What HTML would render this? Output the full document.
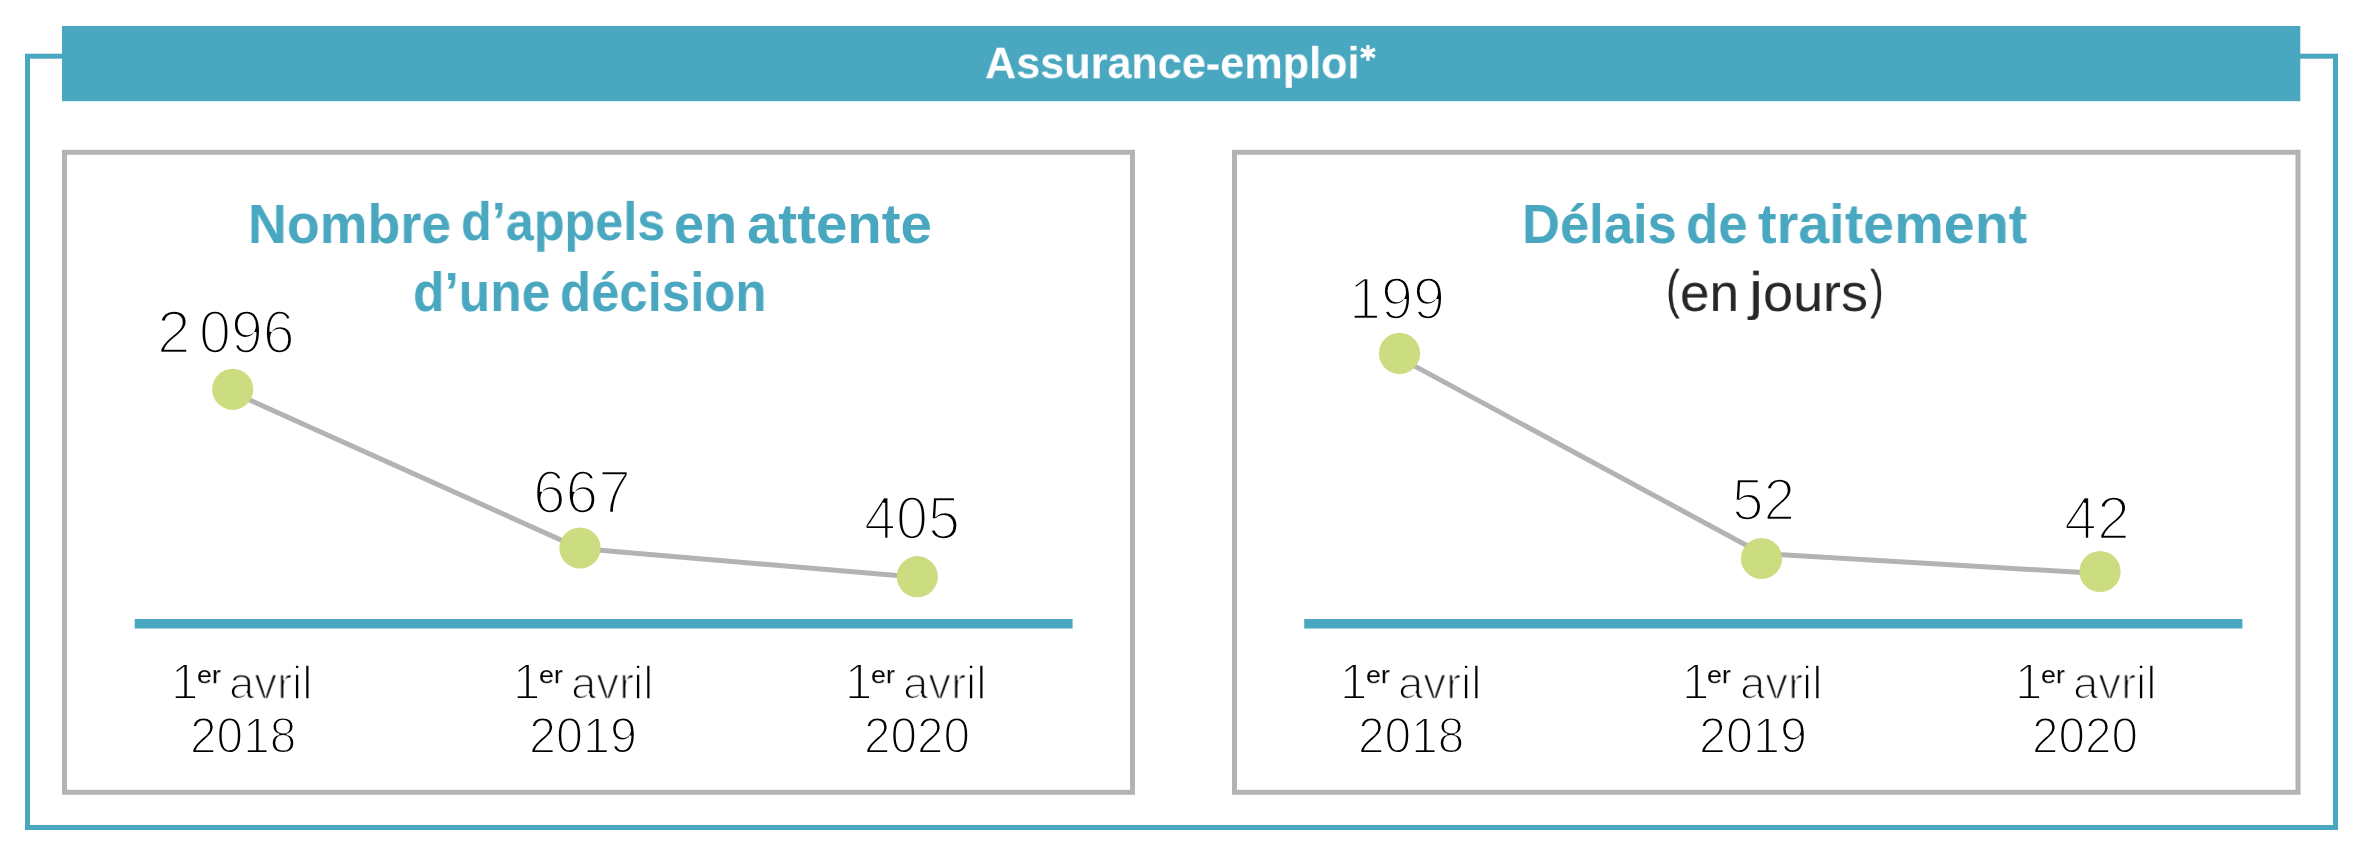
<!DOCTYPE html>
<html><head><meta charset="utf-8"><style>
html,body{margin:0;padding:0;background:#fff;width:2366px;height:858px;overflow:hidden}
body{position:relative;font-family:"Liberation Sans",sans-serif}
.t{position:absolute;white-space:nowrap;transform-origin:0 0;will-change:transform}
</style></head><body>
<svg width="2366" height="858" style="position:absolute;left:0;top:0">
<rect x="27.5" y="56.2" width="2308" height="771.3" fill="none" stroke="#4aa7c0" stroke-width="5"/>
<rect x="62" y="26" width="2238.3" height="75.2" fill="#4aa7c0"/>
<rect x="64.5" y="152.3" width="1068" height="640" fill="none" stroke="#b3b3b3" stroke-width="5"/>
<rect x="1234.5" y="152.3" width="1063.5" height="640" fill="none" stroke="#b3b3b3" stroke-width="5"/>
<rect x="134.7" y="619" width="937.9" height="9.5" fill="#4aa7c0"/>
<rect x="1304.2" y="619" width="938.2" height="9.5" fill="#4aa7c0"/>
<g stroke="#fff" stroke-width="3.3"><line x1="1367.95" y1="45.1" x2="1367.95" y2="60.8"/><line x1="1361" y1="49" x2="1374.9" y2="57"/><line x1="1361" y1="57" x2="1374.9" y2="49"/></g>
<polyline points="232.7,392.4 580,548.5 917.3,577.3" fill="none" stroke="#b3b3b3" stroke-width="5"/>
<polyline points="1399.5,357.9 1761.5,553.5 2100,573.6" fill="none" stroke="#b3b3b3" stroke-width="5"/>
<circle cx="232.7" cy="389.3" r="20.6" fill="#cbdd80"/><circle cx="580" cy="548" r="20.6" fill="#cbdd80"/><circle cx="917.3" cy="576.7" r="20.6" fill="#cbdd80"/><circle cx="1399.5" cy="353.4" r="20.6" fill="#cbdd80"/><circle cx="1761.5" cy="558.5" r="20.6" fill="#cbdd80"/><circle cx="2100" cy="571.5" r="20.6" fill="#cbdd80"/></svg>
<div class="t" style="left:984.98px;top:40.26px;font-weight:700;font-size:47px;line-height:47px;color:#ffffff;transform:scale(0.9189,0.9568);">Assurance-emploi</div><div class="t" style="left:248.16px;top:195.90px;font-weight:700;font-size:56px;line-height:56px;color:#4aa7c0;transform:scaleX(0.9597);">Nombre</div><div class="t" style="left:461.20px;top:194.25px;font-weight:700;font-size:56px;line-height:56px;color:#4aa7c0;transform:scale(0.8991,0.9788);">d’appels</div><div class="t" style="left:674.27px;top:195.90px;font-weight:700;font-size:56px;line-height:56px;color:#4aa7c0;transform:scaleX(0.9633);">en</div><div class="t" style="left:746.79px;top:195.90px;font-weight:700;font-size:56px;line-height:56px;color:#4aa7c0;transform:scaleX(1.0067);">attente</div><div class="t" style="left:413.36px;top:263.50px;font-weight:700;font-size:56px;line-height:56px;color:#4aa7c0;transform:scaleX(0.9193);">d’une</div><div class="t" style="left:560.38px;top:263.50px;font-weight:700;font-size:56px;line-height:56px;color:#4aa7c0;transform:scaleX(0.9086);">décision</div><div class="t" style="left:1522.45px;top:195.80px;font-weight:700;font-size:56px;line-height:56px;color:#4aa7c0;transform:scaleX(0.9384);">Délais</div><div class="t" style="left:1686.11px;top:195.80px;font-weight:700;font-size:56px;line-height:56px;color:#4aa7c0;transform:scaleX(0.9426);">de</div><div class="t" style="left:1758.01px;top:195.80px;font-weight:700;font-size:56px;line-height:56px;color:#4aa7c0;transform:scaleX(0.9944);">traitement</div><div class="t" style="left:1665.63px;top:262.10px;font-weight:400;font-size:56px;line-height:56px;color:#262626;transform:scale(0.7429,0.9577);">(</div><div class="t" style="left:1680.01px;top:265.71px;font-weight:400;font-size:56px;line-height:56px;color:#262626;transform:scale(0.9456,0.9552);">en</div><div class="t" style="left:1748.62px;top:264.25px;font-weight:400;font-size:56px;line-height:56px;color:#262626;transform:scale(1.1200,0.9500);">j</div><div class="t" style="left:1762.87px;top:265.71px;font-weight:400;font-size:56px;line-height:56px;color:#262626;transform:scale(0.9629,0.9552);">ours</div><div class="t" style="left:1870.06px;top:262.10px;font-weight:400;font-size:56px;line-height:56px;color:#262626;transform:scale(0.7429,0.9577);">)</div><div class="t" style="left:156.89px;top:302.07px;font-weight:400;font-size:56px;line-height:56px;color:#000;transform:scale(1.0783,1.0833);-webkit-text-stroke:2.4px #fff">2</div><div class="t" style="left:198.62px;top:302.07px;font-weight:400;font-size:56px;line-height:56px;color:#000;transform:scale(1.0253,1.0833);-webkit-text-stroke:2.4px #fff">096</div><div class="t" style="left:532.81px;top:462.11px;font-weight:400;font-size:56px;line-height:56px;color:#000;transform:scale(1.0471,1.0889);-webkit-text-stroke:2.4px #fff">667</div><div class="t" style="left:864.22px;top:487.71px;font-weight:400;font-size:56px;line-height:56px;color:#000;transform:scale(1.0264,1.0889);-webkit-text-stroke:2.4px #fff">405</div><div class="t" style="left:1349.13px;top:268.58px;font-weight:400;font-size:56px;line-height:56px;color:#000;transform:scale(1.0277,1.0722);-webkit-text-stroke:2.4px #fff">199</div><div class="t" style="left:1732.14px;top:469.76px;font-weight:400;font-size:56px;line-height:56px;color:#000;transform:scale(1.0148,1.0639);-webkit-text-stroke:2.4px #fff">52</div><div class="t" style="left:2063.53px;top:488.11px;font-weight:400;font-size:56px;line-height:56px;color:#000;transform:scale(1.0564,1.0889);-webkit-text-stroke:2.4px #fff">42</div><div class="t" style="left:171.15px;top:657.21px;font-weight:400;font-size:46px;line-height:46px;color:#000;transform:scale(1.0706,1.0733);-webkit-text-stroke:1.7px #fff">1</div><div class="t" style="left:197.01px;top:663.69px;font-weight:400;font-size:27px;line-height:27px;color:#000;transform:scale(0.9913,0.8733);">er</div><div class="t" style="left:229.13px;top:661.22px;font-weight:400;font-size:46px;line-height:46px;color:#000;transform:scale(0.9898,0.9652);-webkit-text-stroke:1.7px #fff">avr</div><div class="t" style="left:291.80px;top:659.31px;font-weight:400;font-size:46px;line-height:46px;color:#000;transform:scale(1.0000,1.0156);-webkit-text-stroke:1.7px #fff">il</div><div class="t" style="left:189.78px;top:710.91px;font-weight:400;font-size:46px;line-height:46px;color:#000;transform:scale(1.0385,1.0733);-webkit-text-stroke:1.7px #fff">2018</div><div class="t" style="left:512.65px;top:657.21px;font-weight:400;font-size:46px;line-height:46px;color:#000;transform:scale(1.0706,1.0733);-webkit-text-stroke:1.7px #fff">1</div><div class="t" style="left:538.51px;top:663.69px;font-weight:400;font-size:27px;line-height:27px;color:#000;transform:scale(0.9913,0.8733);">er</div><div class="t" style="left:570.63px;top:661.22px;font-weight:400;font-size:46px;line-height:46px;color:#000;transform:scale(0.9898,0.9652);-webkit-text-stroke:1.7px #fff">avr</div><div class="t" style="left:633.30px;top:659.31px;font-weight:400;font-size:46px;line-height:46px;color:#000;transform:scale(1.0000,1.0156);-webkit-text-stroke:1.7px #fff">il</div><div class="t" style="left:529.13px;top:710.91px;font-weight:400;font-size:46px;line-height:46px;color:#000;transform:scale(1.0552,1.0733);-webkit-text-stroke:1.7px #fff">2019</div><div class="t" style="left:845.05px;top:657.21px;font-weight:400;font-size:46px;line-height:46px;color:#000;transform:scale(1.0706,1.0733);-webkit-text-stroke:1.7px #fff">1</div><div class="t" style="left:870.91px;top:663.69px;font-weight:400;font-size:27px;line-height:27px;color:#000;transform:scale(0.9913,0.8733);">er</div><div class="t" style="left:903.03px;top:661.22px;font-weight:400;font-size:46px;line-height:46px;color:#000;transform:scale(0.9898,0.9652);-webkit-text-stroke:1.7px #fff">avr</div><div class="t" style="left:965.70px;top:659.31px;font-weight:400;font-size:46px;line-height:46px;color:#000;transform:scale(1.0000,1.0156);-webkit-text-stroke:1.7px #fff">il</div><div class="t" style="left:863.59px;top:710.91px;font-weight:400;font-size:46px;line-height:46px;color:#000;transform:scale(1.0361,1.0733);-webkit-text-stroke:1.7px #fff">2020</div><div class="t" style="left:1340.15px;top:657.21px;font-weight:400;font-size:46px;line-height:46px;color:#000;transform:scale(1.0706,1.0733);-webkit-text-stroke:1.7px #fff">1</div><div class="t" style="left:1366.01px;top:663.69px;font-weight:400;font-size:27px;line-height:27px;color:#000;transform:scale(0.9913,0.8733);">er</div><div class="t" style="left:1398.13px;top:661.22px;font-weight:400;font-size:46px;line-height:46px;color:#000;transform:scale(0.9898,0.9652);-webkit-text-stroke:1.7px #fff">avr</div><div class="t" style="left:1460.80px;top:659.31px;font-weight:400;font-size:46px;line-height:46px;color:#000;transform:scale(1.0000,1.0156);-webkit-text-stroke:1.7px #fff">il</div><div class="t" style="left:1357.68px;top:710.91px;font-weight:400;font-size:46px;line-height:46px;color:#000;transform:scale(1.0385,1.0733);-webkit-text-stroke:1.7px #fff">2018</div><div class="t" style="left:1681.55px;top:657.21px;font-weight:400;font-size:46px;line-height:46px;color:#000;transform:scale(1.0706,1.0733);-webkit-text-stroke:1.7px #fff">1</div><div class="t" style="left:1707.41px;top:663.69px;font-weight:400;font-size:27px;line-height:27px;color:#000;transform:scale(0.9913,0.8733);">er</div><div class="t" style="left:1739.53px;top:661.22px;font-weight:400;font-size:46px;line-height:46px;color:#000;transform:scale(0.9898,0.9652);-webkit-text-stroke:1.7px #fff">avr</div><div class="t" style="left:1802.20px;top:659.31px;font-weight:400;font-size:46px;line-height:46px;color:#000;transform:scale(1.0000,1.0156);-webkit-text-stroke:1.7px #fff">il</div><div class="t" style="left:1699.13px;top:710.91px;font-weight:400;font-size:46px;line-height:46px;color:#000;transform:scale(1.0552,1.0733);-webkit-text-stroke:1.7px #fff">2019</div><div class="t" style="left:2015.05px;top:657.21px;font-weight:400;font-size:46px;line-height:46px;color:#000;transform:scale(1.0706,1.0733);-webkit-text-stroke:1.7px #fff">1</div><div class="t" style="left:2040.91px;top:663.69px;font-weight:400;font-size:27px;line-height:27px;color:#000;transform:scale(0.9913,0.8733);">er</div><div class="t" style="left:2073.03px;top:661.22px;font-weight:400;font-size:46px;line-height:46px;color:#000;transform:scale(0.9898,0.9652);-webkit-text-stroke:1.7px #fff">avr</div><div class="t" style="left:2135.70px;top:659.31px;font-weight:400;font-size:46px;line-height:46px;color:#000;transform:scale(1.0000,1.0156);-webkit-text-stroke:1.7px #fff">il</div><div class="t" style="left:2032.49px;top:710.91px;font-weight:400;font-size:46px;line-height:46px;color:#000;transform:scale(1.0361,1.0733);-webkit-text-stroke:1.7px #fff">2020</div>
</body></html>
